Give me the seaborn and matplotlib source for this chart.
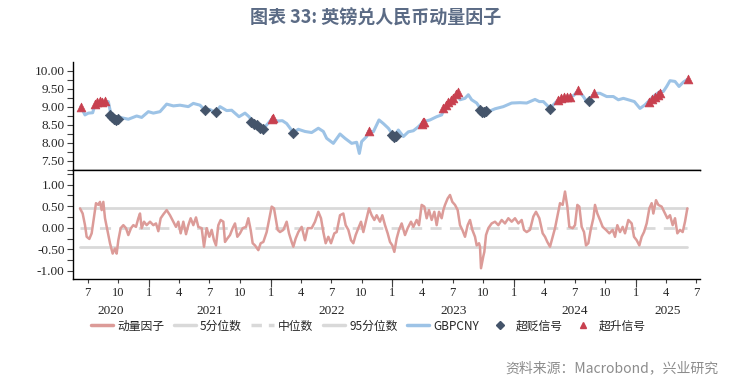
import pandas as pd
import matplotlib
matplotlib.use('Agg')
import matplotlib.pyplot as plt
import matplotlib.dates as mdates
from matplotlib.ticker import MultipleLocator, FormatStrFormatter, NullFormatter, FuncFormatter
from matplotlib.lines import Line2D
import seaborn as sns

# GBPCNY 汇率
fx_dates = [
    '2020-06-10', '2020-06-23', '2020-07-03', '2020-07-16', '2020-07-23', '2020-08-07', '2020-08-19',
    '2020-09-01', '2020-09-08', '2020-09-19', '2020-10-06', '2020-10-31', '2020-11-25', '2020-12-10',
    '2020-12-30', '2021-01-14', '2021-02-03', '2021-02-23', '2021-03-15', '2021-04-04', '2021-04-29',
    '2021-05-14', '2021-06-03', '2021-06-18', '2021-07-03', '2021-07-20', '2021-08-02', '2021-08-22',
    '2021-09-06', '2021-09-28', '2021-10-16', '2021-10-28', '2021-11-10', '2021-11-25', '2021-12-07',
    '2021-12-20', '2022-01-04', '2022-01-22', '2022-02-05', '2022-02-18', '2022-03-10', '2022-03-25',
    '2022-04-14', '2022-05-04', '2022-05-24', '2022-06-08', '2022-06-18', '2022-07-08', '2022-07-28',
    '2022-08-12', '2022-09-01', '2022-09-16', '2022-09-24', '2022-10-01', '2022-10-16', '2022-10-23',
    '2022-11-05', '2022-11-22', '2022-12-05', '2022-12-20', '2023-01-06', '2023-01-19', '2023-02-03',
    '2023-02-18', '2023-03-05', '2023-03-20', '2023-04-04', '2023-04-24', '2023-05-14', '2023-05-29',
    '2023-06-08', '2023-06-23', '2023-07-08', '2023-07-15', '2023-07-23', '2023-08-07', '2023-08-17',
    '2023-08-27', '2023-09-11', '2023-09-29', '2023-10-16', '2023-11-05', '2023-11-30', '2023-12-25',
    '2024-01-19', '2024-02-08', '2024-03-04', '2024-03-17', '2024-03-29', '2024-04-13', '2024-04-18',
    '2024-04-28', '2024-05-13', '2024-05-28', '2024-06-12', '2024-06-27', '2024-07-12', '2024-07-27',
    '2024-08-06', '2024-08-13', '2024-08-29', '2024-09-15', '2024-10-05', '2024-10-25', '2024-11-09',
    '2024-11-24', '2024-12-09', '2024-12-27', '2025-01-13', '2025-01-28', '2025-02-12', '2025-02-27',
    '2025-03-14', '2025-03-24', '2025-04-03', '2025-04-13', '2025-04-28', '2025-05-10', '2025-05-23',
    '2025-06-05',
]
fx_values = [
    9.00, 8.77, 8.82, 8.83, 9.05, 9.11, 9.10,
    9.14, 8.82, 8.68, 8.70, 8.65, 8.74, 8.70,
    8.86, 8.82, 8.86, 9.07, 9.02, 9.04, 9.00,
    9.09, 9.04, 8.90, 8.92, 8.83, 9.00, 8.89,
    8.90, 8.72, 8.82, 8.72, 8.56, 8.46, 8.37,
    8.49, 8.65, 8.60, 8.61, 8.53, 8.28, 8.37,
    8.31, 8.28, 8.40, 8.31, 8.12, 7.98, 8.24,
    8.12, 7.98, 8.01, 7.70, 8.03, 8.17, 8.33,
    8.30, 8.63, 8.53, 8.40, 8.17, 8.35, 8.17,
    8.30, 8.33, 8.44, 8.58, 8.63, 8.72, 8.77,
    9.00, 9.14, 9.28, 9.42, 9.19, 9.23, 9.33,
    9.19, 9.10, 8.86, 8.86, 8.94, 9.00, 9.10,
    9.11, 9.10, 9.20, 9.14, 9.14, 9.00, 8.93,
    9.05, 9.19, 9.26, 9.28, 9.30, 9.45, 9.28,
    9.14, 9.18, 9.37, 9.37, 9.28, 9.28, 9.19,
    9.23, 9.19, 9.14, 8.95, 9.05, 9.19, 9.32,
    9.42, 9.42, 9.56, 9.72, 9.70, 9.56, 9.68,
    9.76,
]

# 动量因子
mom_dates = [
    '2020-06-08', '2020-06-16', '2020-06-23', '2020-06-28', '2020-07-06', '2020-07-13', '2020-07-18',
    '2020-07-26', '2020-08-02', '2020-08-07', '2020-08-12', '2020-08-17', '2020-08-22', '2020-08-29',
    '2020-09-06', '2020-09-14', '2020-09-21', '2020-09-26', '2020-10-01', '2020-10-08', '2020-10-16',
    '2020-10-24', '2020-10-31', '2020-11-08', '2020-11-15', '2020-11-23', '2020-11-30', '2020-12-05',
    '2020-12-10', '2020-12-17', '2020-12-25', '2021-01-04', '2021-01-14', '2021-01-22', '2021-01-29',
    '2021-02-05', '2021-02-13', '2021-02-23', '2021-03-05', '2021-03-15', '2021-03-23', '2021-03-30',
    '2021-04-06', '2021-04-14', '2021-04-22', '2021-04-29', '2021-05-06', '2021-05-14', '2021-05-22',
    '2021-05-29', '2021-06-08', '2021-06-15', '2021-06-23', '2021-07-01', '2021-07-08', '2021-07-15',
    '2021-07-21', '2021-07-28', '2021-08-04', '2021-08-12', '2021-08-17', '2021-08-24', '2021-09-01',
    '2021-09-09', '2021-09-16', '2021-09-23', '2021-10-01', '2021-10-09', '2021-10-19', '2021-10-26',
    '2021-11-02', '2021-11-08', '2021-11-15', '2021-11-25', '2021-12-02', '2021-12-10', '2021-12-20',
    '2021-12-28', '2022-01-04', '2022-01-11', '2022-01-22', '2022-01-29', '2022-02-08', '2022-02-18',
    '2022-02-25', '2022-03-05', '2022-03-10', '2022-03-17', '2022-03-25', '2022-04-04', '2022-04-14',
    '2022-04-22', '2022-05-04', '2022-05-14', '2022-05-24', '2022-06-01', '2022-06-08', '2022-06-15',
    '2022-06-23', '2022-07-01', '2022-07-11', '2022-07-18', '2022-07-28', '2022-08-07', '2022-08-14',
    '2022-08-22', '2022-08-30', '2022-09-06', '2022-09-13', '2022-09-21', '2022-09-29', '2022-10-06',
    '2022-10-16', '2022-10-23', '2022-10-31', '2022-11-08', '2022-11-15', '2022-11-25', '2022-12-02',
    '2022-12-10', '2022-12-18', '2022-12-25', '2023-01-01', '2023-01-07', '2023-01-14', '2023-01-21',
    '2023-01-29', '2023-02-08', '2023-02-16', '2023-02-26', '2023-03-05', '2023-03-15', '2023-03-22',
    '2023-03-30', '2023-04-07', '2023-04-14', '2023-04-21', '2023-04-29', '2023-05-07', '2023-05-14',
    '2023-05-21', '2023-05-29', '2023-06-03', '2023-06-08', '2023-06-16', '2023-06-23', '2023-06-30',
    '2023-07-08', '2023-07-16', '2023-07-23', '2023-07-30', '2023-08-07', '2023-08-15', '2023-08-22',
    '2023-08-29', '2023-09-06', '2023-09-11', '2023-09-18', '2023-09-21', '2023-09-24', '2023-10-01',
    '2023-10-04', '2023-10-09', '2023-10-16', '2023-10-26', '2023-11-05', '2023-11-15', '2023-11-25',
    '2023-12-05', '2023-12-15', '2023-12-25', '2024-01-04', '2024-01-14', '2024-01-24', '2024-01-31',
    '2024-02-08', '2024-02-18', '2024-02-28', '2024-03-07', '2024-03-17', '2024-03-27', '2024-04-03',
    '2024-04-10', '2024-04-18', '2024-04-26', '2024-05-03', '2024-05-10', '2024-05-18', '2024-05-26',
    '2024-06-02', '2024-06-09', '2024-06-15', '2024-06-25', '2024-07-02', '2024-07-09', '2024-07-15',
    '2024-07-22', '2024-07-29', '2024-08-04', '2024-08-11', '2024-08-18', '2024-08-26', '2024-08-31',
    '2024-09-07', '2024-09-15', '2024-09-23', '2024-10-03', '2024-10-13', '2024-10-23', '2024-10-30',
    '2024-11-06', '2024-11-14', '2024-11-22', '2024-11-29', '2024-12-09', '2024-12-19', '2024-12-26',
    '2025-01-03', '2025-01-11', '2025-01-18', '2025-01-25', '2025-02-02', '2025-02-10', '2025-02-17',
    '2025-02-22', '2025-03-02', '2025-03-09', '2025-03-19', '2025-03-29', '2025-04-05', '2025-04-13',
    '2025-04-21', '2025-04-28', '2025-05-05', '2025-05-13', '2025-05-21', '2025-05-28', '2025-06-04',
]
mom_values = [
    0.45, 0.33, 0.06, -0.21, -0.26, -0.13, 0.14,
    0.57, 0.53, 0.60, 0.41, 0.60, 0.22, -0.05,
    -0.36, -0.60, -0.48, -0.60, -0.29, -0.01, 0.06,
    -0.01, -0.17, -0.01, 0.06, 0.02, 0.22, 0.33,
    -0.01, 0.14, 0.06, 0.14, 0.06, 0.10, -0.08,
    0.22, 0.31, 0.41, 0.29, 0.14, 0.02, 0.14,
    -0.13, 0.14, -0.15, 0.06, 0.22, 0.06, 0.24,
    0.02, -0.01, -0.44, -0.01, -0.21, -0.05, -0.29,
    -0.41, 0.06, 0.18, 0.14, -0.33, -0.25, -0.17,
    -0.01, 0.10, -0.21, -0.13, -0.01, 0.02, 0.22,
    -0.05, -0.36, -0.41, -0.52, -0.36, -0.33, -0.10,
    0.22, 0.49, 0.45, -0.05, -0.10, -0.05, 0.14,
    -0.13, -0.33, -0.44, -0.25, -0.10, 0.02, -0.29,
    -0.01, -0.01, 0.14, 0.37, 0.22, -0.10, -0.36,
    -0.21, -0.36, -0.13, -0.10, 0.29, 0.33, 0.06,
    -0.05, -0.29, -0.36, -0.17, -0.01, 0.14, -0.10,
    0.22, 0.45, 0.29, 0.18, 0.29, 0.14, 0.29,
    0.06, -0.13, -0.33, -0.41, -0.56, -0.25, -0.05,
    0.10, -0.17, -0.01, 0.14, 0.02, 0.18, 0.06,
    0.53, 0.49, 0.22, 0.41, 0.18, 0.37, 0.06,
    0.37, 0.22, 0.41, 0.53, 0.68, 0.76, 0.60,
    0.53, 0.41, 0.06, -0.05, -0.21, 0.06, 0.18,
    -0.05, -0.21, -0.41, -0.36, -0.44, -0.94, -0.66,
    -0.56, -0.17, -0.01, 0.10, 0.14, 0.06, 0.18,
    0.10, 0.22, 0.14, 0.22, 0.10, 0.18, -0.05,
    -0.10, -0.05, 0.26, 0.37, 0.22, -0.13, -0.21,
    -0.33, -0.44, -0.21, -0.01, 0.26, 0.57, 0.53,
    0.84, 0.49, 0.02, -0.01, 0.06, 0.53, 0.49,
    0.02, -0.10, -0.41, -0.36, -0.05, 0.22, 0.53,
    0.33, 0.18, 0.02, -0.05, -0.13, -0.05, -0.21,
    0.06, -0.10, 0.02, -0.13, 0.18, 0.10, -0.21,
    -0.29, -0.41, -0.21, -0.10, 0.10, 0.45, 0.57,
    0.33, 0.64, 0.53, 0.49, 0.33, 0.22, 0.29,
    0.06, 0.22, -0.13, -0.05, -0.10, 0.14, 0.45,
]

# 分位数
q05 = -0.44
q50 = 0.0
q95 = 0.45

# 超贬信号
down_dates = [
    '2020-09-06', '2020-09-12', '2020-09-18', '2020-09-24', '2020-09-30',
    '2021-06-18', '2021-07-20',
    '2021-11-03', '2021-11-12', '2021-11-21', '2021-11-30', '2021-12-09',
    '2022-03-10',
    '2023-01-01', '2023-01-06', '2023-01-12',
    '2023-09-21', '2023-09-27', '2023-10-03', '2023-10-09',
    '2024-04-18', '2024-08-13',
]
down_values = [
    8.78, 8.72, 8.65, 8.62, 8.66,
    8.90, 8.84,
    8.58, 8.53, 8.48, 8.42, 8.38,
    8.28,
    8.20, 8.16, 8.18,
    8.90, 8.86, 8.85, 8.87,
    8.93, 9.17,
]

# 超升信号
up_dates = [
    '2020-06-10',
    '2020-07-23', '2020-07-29', '2020-08-06', '2020-08-13', '2020-08-21',
    '2022-01-04', '2022-01-08',
    '2022-10-23',
    '2023-03-30', '2023-04-03', '2023-04-07',
    '2023-06-03', '2023-06-11', '2023-06-18', '2023-06-26', '2023-07-03', '2023-07-11', '2023-07-17',
    '2024-05-13', '2024-05-22', '2024-05-31', '2024-06-09', '2024-06-18',
    '2024-07-12', '2024-08-29',
    '2025-02-08', '2025-02-17', '2025-02-26', '2025-03-07', '2025-03-15',
    '2025-06-05',
]
up_values = [
    9.00,
    9.08, 9.14, 9.16, 9.13, 9.15,
    8.66, 8.68,
    8.33,
    8.52, 8.57, 8.57,
    8.95, 9.05, 9.12, 9.18, 9.25, 9.35, 9.42,
    9.18, 9.25, 9.27, 9.28, 9.27,
    9.46, 9.37,
    9.12, 9.20, 9.28, 9.33, 9.38,
    9.76,
]

years = ['2020', '2021', '2022', '2023', '2024', '2025']

fx = pd.DataFrame({'date': pd.to_datetime(fx_dates), 'value': fx_values})
mom = pd.DataFrame({'date': pd.to_datetime(mom_dates), 'value': mom_values})
down = pd.DataFrame({'date': pd.to_datetime(down_dates), 'value': down_values})
up = pd.DataFrame({'date': pd.to_datetime(up_dates), 'value': up_values})

sns.set_theme(style='ticks')
plt.rcParams['font.family'] = ['Noto Sans CJK SC', 'DejaVu Sans']
plt.rcParams['axes.unicode_minus'] = False

c_mom = '#dc9b98'
c_fx = '#9dc3e6'
c_ref = '#d9d9d9'
c_up = '#c8404f'
c_down = '#44546a'

fig = plt.figure(figsize=(7.51, 3.84), dpi=100)
ax1 = fig.add_axes([0.0972, 0.5573, 0.8349, 0.2813])
ax2 = fig.add_axes([0.0972, 0.2734, 0.8349, 0.2839], sharex=ax1)

# 上图: 汇率 + 信号
sns.lineplot(data=fx, x='date', y='value', ax=ax1, color=c_fx, lw=2.2, zorder=2)
sns.scatterplot(data=down, x='date', y='value', ax=ax1, marker='D', s=28,
                color=c_down, edgecolor=c_down, linewidth=0.5, zorder=3)
sns.scatterplot(data=up, x='date', y='value', ax=ax1, marker='^', s=40,
                color=c_up, edgecolor=c_up, linewidth=0.5, zorder=3)

# 下图: 动量因子 + 分位数
sns.lineplot(data=mom, x='date', y='value', ax=ax2, color=c_mom, lw=1.8, zorder=3)
start, end = mom['date'].iloc[0], mom['date'].iloc[-1]
ax2.plot([start, end], [q95, q95], color=c_ref, lw=2, zorder=2)
ax2.plot([start, end], [q05, q05], color=c_ref, lw=2, zorder=2)
ax2.plot([start, end], [q50, q50], color=c_ref, lw=2, ls=(0, (4, 3)), zorder=2)

xmin, xmax = pd.Timestamp('2020-05-18'), pd.Timestamp('2025-07-12')
ax2.set_xlim(xmin, xmax)

ax1.set_ylim(7.24, 10.24)
ax1.yaxis.set_major_locator(MultipleLocator(0.5))
ax1.yaxis.set_minor_locator(MultipleLocator(0.25))
ax1.yaxis.set_major_formatter(FormatStrFormatter('%.2f'))
ax2.set_ylim(-1.19, 1.34)
ax2.yaxis.set_major_locator(MultipleLocator(0.5))
ax2.yaxis.set_minor_locator(MultipleLocator(0.25))
ax2.yaxis.set_major_formatter(FormatStrFormatter('%.2f'))

serif = 'Liberation Serif'
for ax in (ax1, ax2):
    ax.set_xlabel('')
    ax.set_ylabel('')
    ax.spines['right'].set_visible(False)
    for s in ax.spines.values():
        s.set_color('black')
        s.set_linewidth(1)
    ax.tick_params(axis='y', which='both', length=4, width=0.8, color='#404040',
                   labelsize=9.5, pad=2)
    for lab in ax.get_yticklabels():
        lab.set_fontfamily(serif)
    ax.grid(False)

ax1.spines['top'].set_visible(False)
ax1.tick_params(axis='x', which='both', bottom=False, labelbottom=False)

ax2.xaxis.remove_overlapping_locs = False
ax2.xaxis.set_major_locator(mdates.YearLocator())
ax2.xaxis.set_major_formatter(NullFormatter())
ax2.xaxis.set_minor_locator(mdates.MonthLocator(bymonth=[1, 4, 7, 10]))
ax2.xaxis.set_minor_formatter(FuncFormatter(lambda v, p: str(mdates.num2date(v).month)))
ax2.tick_params(axis='x', which='major', length=6, width=0.8, color='#404040')
ax2.tick_params(axis='x', which='minor', length=3, width=0.8, color='#404040',
                labelsize=9, pad=3)
for lab in ax2.xaxis.get_minorticklabels():
    lab.set_fontfamily(serif)

# 年份标签, 居中于每年可见区间
for y in years:
    a = max(pd.Timestamp(f'{y}-01-01'), xmin)
    b = min(pd.Timestamp(f'{int(y) + 1}-01-01'), xmax)
    mid = a + (b - a) / 2
    ax2.annotate(y, xy=(mid, 0), xycoords=('data', 'axes fraction'),
                 xytext=(0, -23), textcoords='offset points',
                 ha='center', va='center', fontsize=9.5, family=serif)

# 图例
handles = [
    Line2D([], [], color=c_mom, lw=2.5),
    Line2D([], [], color=c_ref, lw=2.5),
    Line2D([], [], color=c_ref, lw=2.5, ls=(0, (3, 2))),
    Line2D([], [], color=c_ref, lw=2.5),
    Line2D([], [], color=c_fx, lw=2.5),
    Line2D([], [], color=c_down, marker='D', ls='none', ms=4),
    Line2D([], [], color=c_up, marker='^', ls='none', ms=5),
]
labels = ['动量因子', '5分位数', '中位数', '95分位数', 'GBPCNY', '超贬信号', '超升信号']
fig.legend(handles, labels, loc='center', bbox_to_anchor=(0.49, 0.151), ncol=7,
           frameon=False, fontsize=8.5, handlelength=1.9, handletextpad=0.35,
           columnspacing=0.8, borderaxespad=0)

fig.text(0.5, 1 - 18 / 384, '图表 33: 英镑兑人民币动量因子', ha='center', va='center',
         fontsize=13, fontweight='bold', color='#5b6b85')
fig.text(718 / 751, 1 - 368 / 384, '资料来源：Macrobond，兴业研究', ha='right', va='center',
         fontsize=10, color='#8c8c8c')

fig.savefig('out.png', dpi=100)
